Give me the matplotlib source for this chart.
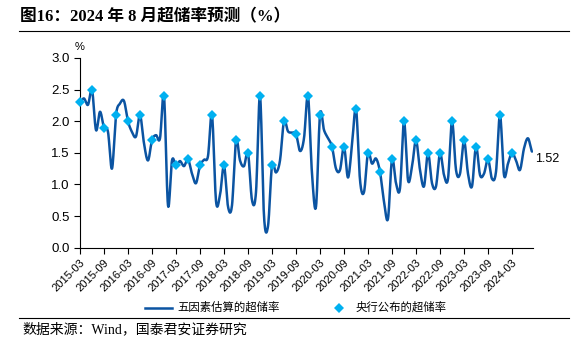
import numpy as np
import pandas as pd
import matplotlib
matplotlib.use("Agg")
import matplotlib.pyplot as plt
from matplotlib.lines import Line2D

plt.rcParams['font.family'] = ['Liberation Sans', 'Noto Sans CJK SC', 'DejaVu Sans']

# ---------------- data ----------------
months = pd.period_range("2015-03", "2024-08", freq="M").strftime("%Y-%m").tolist()

est_values = [
    2.30, 2.36, 2.26, 2.50, 1.86, 2.15, 1.90, 1.83, 1.25, 2.10,
    2.28, 2.32, 2.00, 1.83, 1.76, 2.10, 1.65, 1.38, 1.70, 1.78,
    1.73, 2.40, 0.67, 1.38, 1.30, 1.37, 1.29, 1.40, 1.17, 1.02,
    1.30, 1.39, 1.45, 2.10, 0.74, 0.83, 1.30, 0.65, 0.67, 1.70,
    1.38, 1.29, 1.50, 0.75, 0.88, 2.40, 0.50, 0.34, 1.30, 1.19,
    1.38, 2.00, 1.84, 1.82, 1.80, 1.53, 1.73, 2.40, 1.17, 0.65,
    2.10, 1.86, 1.73, 1.60, 1.25, 1.23, 1.60, 1.11, 1.62, 2.20,
    1.07, 0.88, 1.50, 1.33, 1.41, 1.20, 0.73, 0.46, 1.40, 1.02,
    0.94, 2.00, 1.07, 1.28, 1.70, 1.23, 0.97, 1.50, 1.02, 0.97,
    1.50, 1.15, 1.09, 2.00, 1.23, 1.17, 1.70, 1.17, 0.97, 1.60,
    1.15, 1.17, 1.40, 1.09, 1.20, 2.10, 1.15, 1.33, 1.50, 1.38,
    1.23, 1.57, 1.73, 1.52,
]

pboc_months = pd.period_range("2015-03", "2024-03", freq="Q-DEC").asfreq("M", "end").strftime("%Y-%m").tolist()
pboc_values = [
    2.3, 2.5, 1.9, 2.1,
    2.0, 2.1, 1.7, 2.4,
    1.3, 1.4, 1.3, 2.1,
    1.3, 1.7, 1.5, 2.4,
    1.3, 2.0, 1.8, 2.4,
    2.1, 1.6, 1.6, 2.2,
    1.5, 1.2, 1.4, 2.0,
    1.7, 1.5, 1.5, 2.0,
    1.7, 1.6, 1.4, 2.1,
    1.5,
]

tick_labels = months[0::6][:19]

title = "图16：2024 年 8 月超储率预测（%）"
source = "数据来源：Wind，国泰君安证券研究"
label_est = "五因素估算的超储率"
label_pboc = "央行公布的超储率"

# ---------------- helpers ----------------
def catmull_rom(x, y, n=12):
    x = np.asarray(x, float)
    y = np.asarray(y, float)
    yp = np.concatenate([[y[0]], y, [y[-1]]])
    xs, ys = [], []
    t = np.linspace(0, 1, n, endpoint=False)
    for i in range(len(y) - 1):
        p0, p1, p2, p3 = yp[i], yp[i + 1], yp[i + 2], yp[i + 3]
        seg = 0.5 * ((2 * p1) + (-p0 + p2) * t + (2 * p0 - 5 * p1 + 4 * p2 - p3) * t ** 2
                     + (-p0 + 3 * p1 - 3 * p2 + p3) * t ** 3)
        xs.append(x[i] + (x[i + 1] - x[i]) * t)
        ys.append(seg)
    xs.append([x[-1]])
    ys.append([y[-1]])
    return np.concatenate(xs), np.concatenate(ys)

W, H = 578, 339
def fx(px):
    return px / W
def fy(py):
    return 1 - py / H

# ---------------- figure ----------------
fig = plt.figure(figsize=(W / 100, H / 100), dpi=100)
ax = fig.add_axes([fx(80), fy(247.7), 453 / W, 189.7 / H])

x_est = np.arange(len(months))
sx, sy = catmull_rom(x_est, est_values)
line_color = "#0B54A2"
pt_color = "#00B0F0"
ax.plot(sx, sy, color=line_color, lw=1.8, solid_capstyle="round", zorder=2)

x_pboc = [months.index(m) for m in pboc_months]
ax.plot(x_pboc, pboc_values, linestyle="none", marker="D", markersize=5.5,
        color=pt_color, markeredgewidth=0, zorder=3, clip_on=False)

ax.set_xlim(0, len(months) - 1 + 0.25)
ax.set_ylim(0, 3.0)
yt = np.arange(0, 3.01, 0.5)
ax.set_yticks(yt)
ax.set_yticklabels([f"{v:.1f}" for v in yt], fontsize=9.5)
ax.set_xticks([months.index(t) for t in tick_labels])
ax.set_xticklabels(tick_labels, rotation=45, ha="right", rotation_mode="anchor", fontsize=8)
ax.tick_params(axis="both", direction="out", length=4, width=0.8, color="black")
ax.tick_params(axis="x", pad=3)
for s in ["top", "right"]:
    ax.spines[s].set_visible(False)
for s in ["left", "bottom"]:
    ax.spines[s].set_linewidth(0.8)

ax.text(0, 3.1, "%", fontsize=8, ha="center", va="bottom")

ax.annotate(f"{est_values[-1]:.2f}", xy=(len(months) - 1, est_values[-1]), xytext=(2, -5),
            textcoords="offset points", fontsize=9, ha="left", va="center", annotation_clip=False)

# legend (drawn in figure coordinates)
ly = fy(307.5)
fig.add_artist(Line2D([fx(145), fx(172)], [ly, ly], color=line_color, lw=1.8))
fig.text(fx(177), ly, label_est, fontsize=8.2, family=["Noto Sans CJK SC"], ha="left", va="center")
fig.add_artist(Line2D([fx(339)], [ly], color=pt_color, marker="D", markersize=5.5,
                      markeredgewidth=0, linestyle="none"))
fig.text(fx(355), ly, label_pboc, fontsize=8.2, family=["Noto Sans CJK SC"], ha="left", va="center")

# title & source
fig.text(fx(20), fy(17), title, fontsize=12, fontweight="bold",
         family=["Liberation Serif", "Noto Sans CJK SC"], ha="left", va="center")
fig.add_artist(Line2D([fx(19), fx(569)], [fy(31), fy(31)], color="black", lw=0.8))
fig.add_artist(Line2D([fx(19), fx(569)], [fy(318), fy(318)], color="black", lw=0.8))
fig.text(fx(22), fy(329), source, fontsize=10,
         family=["Liberation Serif", "Noto Sans CJK SC"], ha="left", va="center")

fig.savefig("out.png", dpi=100)
